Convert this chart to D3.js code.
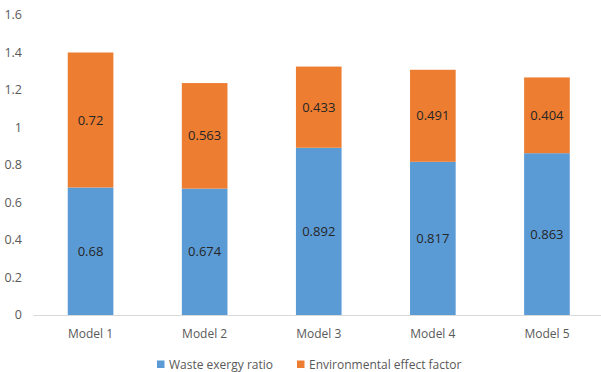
<!DOCTYPE html>
<html>
<head>
<meta charset="utf-8">
<script src="https://cdn.jsdelivr.net/npm/d3@7"></script>
<style>
  html, body { margin: 0; padding: 0; background: #fff; }
  svg { display: block; font-family: "Open Sans", "Noto Sans", sans-serif; }
</style>
</head>
<body>
<svg id="chart" width="601" height="372"></svg>
<script>
// Stacked bar data
const categories = ["Model 1", "Model 2", "Model 3", "Model 4", "Model 5"];
const wasteExergy = [0.68, 0.674, 0.892, 0.817, 0.863];
const envEffect = [0.72, 0.563, 0.433, 0.491, 0.404];
const seriesNames = ["Waste exergy ratio", "Environmental effect factor"];
const seriesColors = ["#5B9BD5", "#ED7D31"];
const yTicks = [0, 0.2, 0.4, 0.6, 0.8, 1, 1.2, 1.4, 1.6];

const svg = d3.select("#chart");
const plotLeft = 33.5, plotRight = 604, plotTop = 15, plotBottom = 315;

const x = d3.scaleBand().domain(categories).range([plotLeft, plotRight])
  .paddingInner(0.6).paddingOuter(0.3);
const y = d3.scaleLinear().domain([0, 1.6]).range([plotBottom, plotTop]);

const rows = categories.map((c, i) => ({ cat: c, a: wasteExergy[i], b: envEffect[i] }));
const stack = d3.stack().keys(["a", "b"])(rows);

// y tick labels (no gridlines)
svg.append("g").selectAll("text").data(yTicks).join("text")
  .attr("x", 22).attr("y", d => y(d)).attr("dy", "0.35em")
  .attr("text-anchor", "end").attr("font-size", 12.5).attr("fill", "#595959")
  .text(d => d);

// bars and their value labels
stack.forEach((layer, li) => {
  const g = svg.append("g").attr("fill", seriesColors[li]);
  g.selectAll("rect").data(layer).join("rect")
    .attr("x", d => x(d.data.cat))
    .attr("width", x.bandwidth())
    .attr("y", d => y(d[1]))
    .attr("height", d => y(d[0]) - y(d[1]));
  const vals = li === 0 ? wasteExergy : envEffect;
  svg.append("g").selectAll("text").data(layer).join("text")
    .attr("x", d => x(d.data.cat) + x.bandwidth() / 2)
    .attr("y", d => (y(d[0]) + y(d[1])) / 2)
    .attr("dy", "0.35em").attr("text-anchor", "middle")
    .attr("font-size", 13).attr("fill", "#262626")
    .text((d, i) => vals[i]);
});

// x axis baseline
svg.append("line").attr("x1", plotLeft).attr("x2", 601)
  .attr("y1", y(0) + 0.5).attr("y2", y(0) + 0.5)
  .attr("stroke", "#d9d9d9").attr("stroke-width", 1);

// category labels
svg.append("g").selectAll("text").data(categories).join("text")
  .attr("x", d => x(d) + x.bandwidth() / 2).attr("y", 334).attr("dy", "0.35em")
  .attr("text-anchor", "middle").attr("font-size", 12).attr("fill", "#595959")
  .text(d => d);

// legend
const legendX = [157, 297];
seriesNames.forEach((name, i) => {
  svg.append("rect").attr("x", legendX[i]).attr("y", 360.5)
    .attr("width", 7.5).attr("height", 7.5).attr("fill", seriesColors[i]);
  svg.append("text").attr("x", legendX[i] + 12).attr("y", 364.5).attr("dy", "0.35em")
    .attr("font-size", 12).attr("fill", "#595959").text(name);
});
</script>
</body>
</html>
